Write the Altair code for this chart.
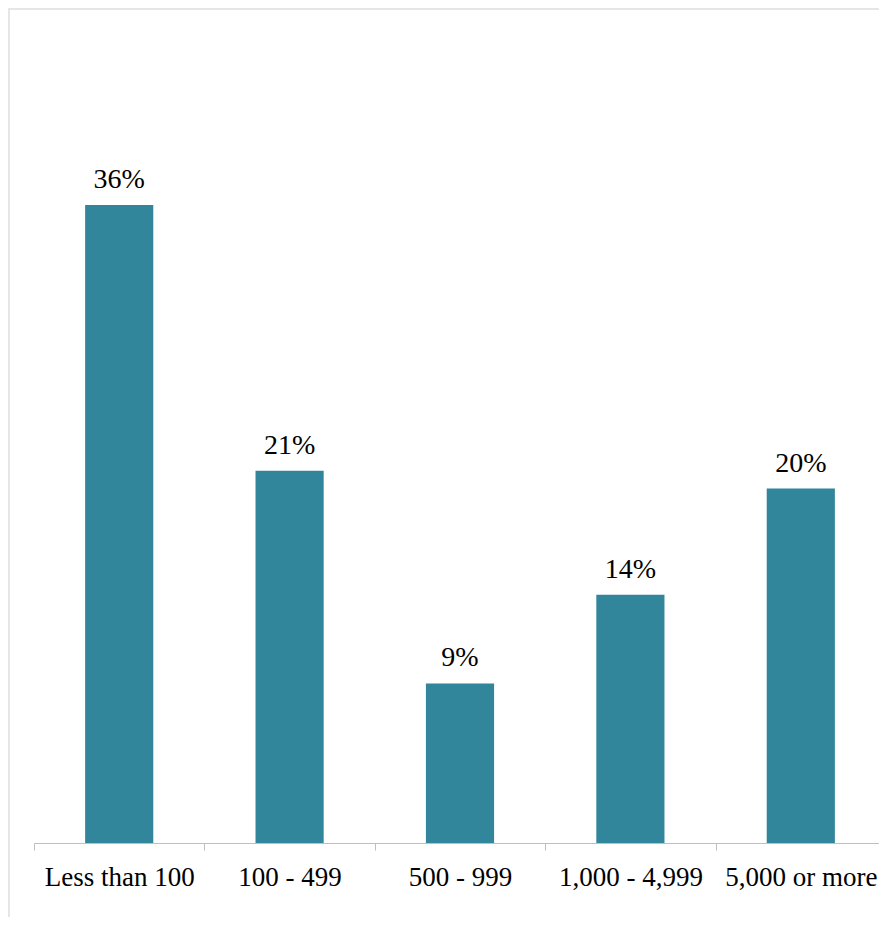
import altair as alt
import pandas as pd

categories = ["Less than 100", "100 - 499", "500 - 999", "1,000 - 4,999", "5,000 or more"]
values = [36, 21, 9, 14, 20]
labels = ["36%", "21%", "9%", "14%", "20%"]

df = pd.DataFrame({"cat": categories, "val": values, "lab": labels})

FONT = "Liberation Serif"
BAR = "#31869b"
W, H = 845, 833
RANGE_W = 852

x_enc = alt.X(
    "cat:N",
    sort=categories,
    scale=alt.Scale(paddingInner=0, paddingOuter=0, range=[0, RANGE_W]),
    axis=alt.Axis(
        title=None,
        labelAngle=0,
        labelFont=FONT,
        labelFontSize=27,
        labelColor="#000000",
        labelPadding=14,
        tickBand="extent",
        tickSize=7,
        tickColor="#bfbfbf",
        domainColor="#bfbfbf",
        tickWidth=1,
        domainWidth=1,
        labelOverlap=False,
    ),
)
y_enc = alt.Y("val:Q", scale=alt.Scale(domain=[0, 47], nice=False), axis=None)

base = alt.Chart(df)
bars = base.mark_bar(color=BAR, width=alt.RelativeBandSize(0.4)).encode(x=x_enc, y=y_enc)
text = base.mark_text(
    font=FONT, fontSize=28, color="#000000", baseline="alphabetic", dy=-17
).encode(x=alt.X("cat:N", sort=categories), y="val:Q", text="lab:N")

border_df = pd.DataFrame({"a": [0]})
left_line = alt.Chart(border_df).mark_rule(color="#e6e6e6", strokeWidth=2).encode(
    x=alt.value(-25), y=alt.value(-2), y2=alt.value(920)
)
top_line = alt.Chart(border_df).mark_rule(color="#e6e6e6", strokeWidth=2).encode(
    x=alt.value(-26), x2=alt.value(RANGE_W + 10), y=alt.value(-1)
)

chart = (
    alt.layer(left_line, top_line, bars, text)
    .properties(
        width=W,
        height=H,
        autosize=alt.AutoSizeParams(type="none"),
        padding={"left": 26, "top": 2, "right": 0, "bottom": 74},
    )
    .configure_view(stroke=None)
)

chart.save("out.html", embed_options={"renderer": "svg", "actions": False})
